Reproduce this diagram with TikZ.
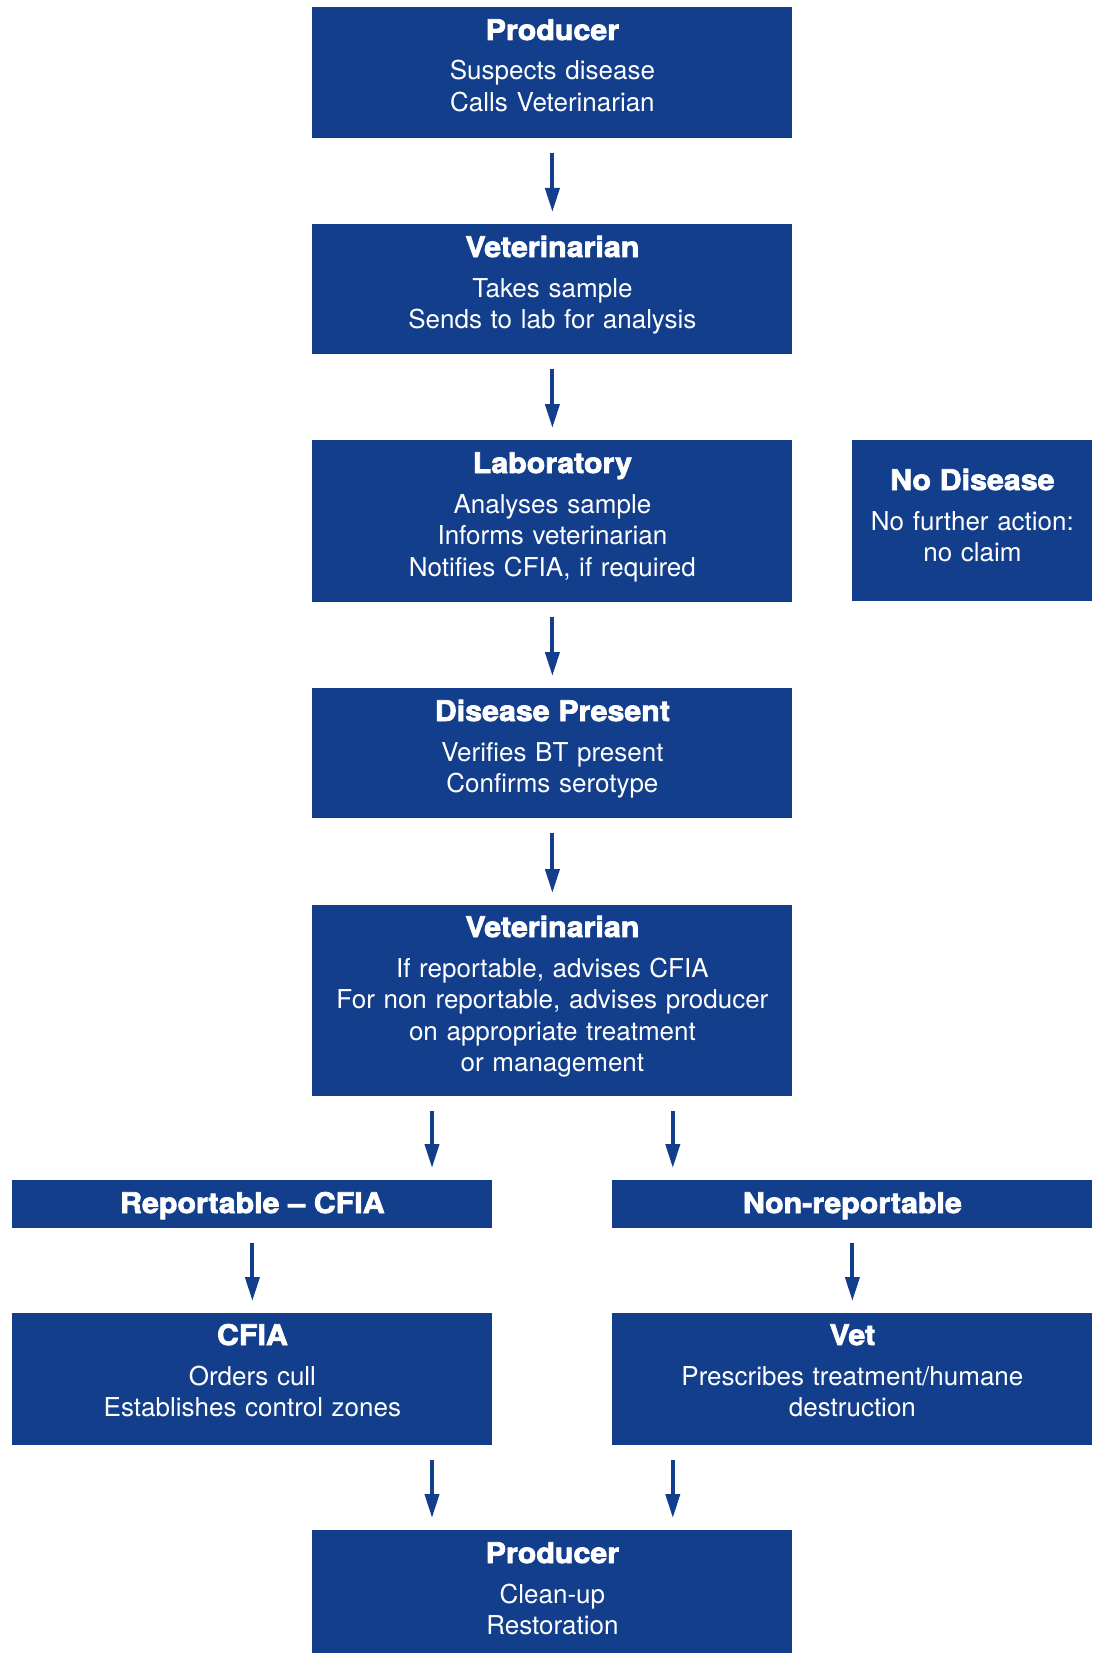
\documentclass[tikz,border=0pt]{standalone}
\usepackage{fontspec}
\setmainfont{TeX Gyre Heros}
\newfontfamily\hdfont[FakeBold=2.6,FakeStretch=1.07]{TeX Gyre Heros}
\usetikzlibrary{arrows.meta,calc}
\definecolor{bluebox}{HTML}{123E8C}
\begin{document}
\begin{tikzpicture}[x=0.5pt,y=-0.5pt,
  box/.style={rectangle, fill=bluebox, draw=none, inner sep=0pt, anchor=north west, minimum width=240pt},
  txt/.style={text=white, align=center, text width=250pt, anchor=base, inner sep=0pt,
    font=\fontsize{13}{15.75}\selectfont},
  arr/.style={draw=bluebox, line width=2pt, -{Triangle[width=7pt,length=12pt]},
    shorten <=7pt, shorten >=6pt}]
\useasboundingbox (0,0) rectangle (1099,1653);
\newcommand{\hdtxt}[1]{{\hdfont\bfseries\fontsize{14.2}{15.75}\selectfont #1}}
% boxes
\node[box, minimum height=65.5pt] (prod1) at (312,7) {};
\node[box, minimum height=65pt] (vet1) at (312,224) {};
\node[box, minimum height=81pt] (lab) at (312,440) {};
\node[box, minimum height=80.5pt, minimum width=120pt] (nod) at (852,440) {};
\node[box, minimum height=65pt] (dis) at (312,688) {};
\node[box, minimum height=95.5pt] (vet2) at (312,905) {};
\node[box, minimum height=24pt] (rep) at (12,1180) {};
\node[box, minimum height=24pt] (nonrep) at (612,1180) {};
\node[box, minimum height=66pt] (cfia) at (12,1313) {};
\node[box, minimum height=66pt] (vet3) at (612,1313) {};
\node[box, minimum height=62pt] (prod2) at (312,1530) {};
% texts
\node[txt] (prod1t) at ($(prod1.north)+(0,33)$) {\hdtxt{Producer}\\[4.25pt]Suspects disease\\Calls Veterinarian};
\node[txt] (vet1t) at ($(vet1.north)+(0,33)$) {\hdtxt{Veterinarian}\\[4.25pt]Takes sample\\Sends to lab for analysis};
\node[txt] (labt) at ($(lab.north)+(0,33)$) {\hdtxt{Laboratory}\\[4.25pt]Analyses sample\\Informs veterinarian\\Notifies CFIA, if required};
\node[txt, text width=125pt] (nodt) at ($(nod.north)+(0,50)$) {\hdtxt{No Disease}\\[4.25pt]No further action:\\no claim};
\node[txt] (dist) at ($(dis.north)+(0,33)$) {\hdtxt{Disease Present}\\[4.25pt]Verifies BT present\\Confirms serotype};
\node[txt] (vet2t) at ($(vet2.north)+(0,32)$) {\hdtxt{Veterinarian}\\[4.25pt]If reportable, advises CFIA\\For non reportable, advises producer\\on appropriate treatment\\or management};
\node[txt] (rept) at ($(rep.north)+(0,33)$) {\hdtxt{Reportable – CFIA}};
\node[txt] (nonrept) at ($(nonrep.north)+(0,33)$) {\hdtxt{Non-reportable}};
\node[txt] (cfiat) at ($(cfia.north)+(0,32)$) {\hdtxt{CFIA}\\[4.25pt]Orders cull\\Establishes control zones};
\node[txt] (vet3t) at ($(vet3.north)+(0,32)$) {\hdtxt{Vet}\\[4.25pt]Prescribes treatment/humane\\destruction};
\node[txt] (prod2t) at ($(prod2.north)+(0,33)$) {\hdtxt{Producer}\\[4.25pt]Clean-up\\Restoration};
% arrows
\draw[arr] (prod1) -- (vet1);
\draw[arr] (vet1) -- (lab);
\draw[arr] (lab) -- (dis);
\draw[arr] (dis) -- (vet2);
\draw[arr] ([xshift=60pt]vet2.south west) -- ([xshift=60pt]vet2.south west |- rep.north);
\draw[arr] ([xshift=-60pt]vet2.south east) -- ([xshift=-60pt]vet2.south east |- nonrep.north);
\draw[arr] (rep) -- (cfia);
\draw[arr] (nonrep) -- (vet3);
\draw[arr] ([xshift=60pt]prod2.north west |- cfia.south) -- ([xshift=60pt]prod2.north west);
\draw[arr] ([xshift=-60pt]prod2.north east |- vet3.south) -- ([xshift=-60pt]prod2.north east);
\end{tikzpicture}
\end{document}
